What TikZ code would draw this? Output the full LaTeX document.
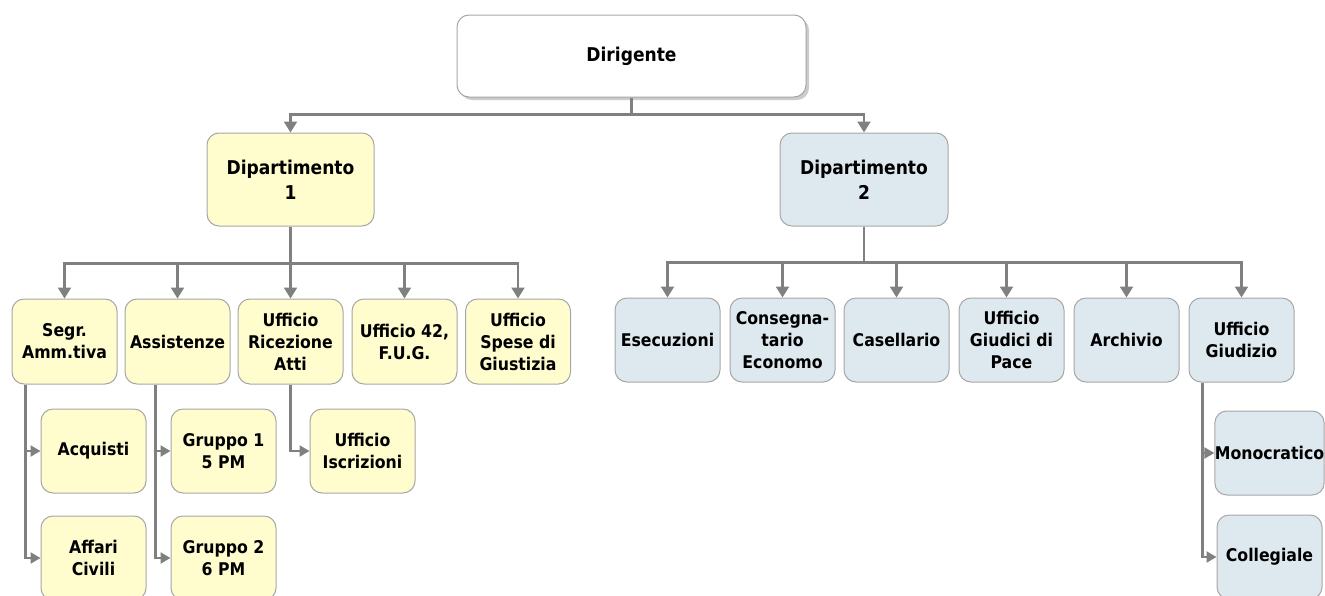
\documentclass[tikz,border=0pt]{standalone}
\usepackage{fontspec}
\setmainfont{DejaVu Sans Condensed}
\usepackage{xcolor}
\usetikzlibrary{arrows.meta,positioning,shadows}

\definecolor{boxline}{HTML}{A6A6A6}
\definecolor{linkgray}{HTML}{808080}
\definecolor{dipyellow}{HTML}{FFFDCE}
\definecolor{dipblue}{HTML}{DEE8EF}

\begin{document}
\begin{tikzpicture}[x=1pt,y=-1pt,
                    box/.style={draw=boxline, line width=1pt, rounded corners=12pt, align=center,
                                inner sep=0pt, font=\fontsize{17.5}{22}\selectfont\bfseries},
                    topbox/.style={box, font=\fontsize{19}{25}\selectfont\bfseries},
                    yellowbox/.style={box, fill=dipyellow, minimum width=105pt, minimum height=85pt},
                    bluebox/.style={box, fill=dipblue, minimum width=105pt, minimum height=84pt},
                    link/.style={draw=linkgray, line width=2.2pt, -{Triangle[width=13pt,length=11pt]}},
                    sublink/.style={link, -{Triangle[width=11pt,length=10pt]}},
                    bus/.style={draw=linkgray, line width=2.2pt},
                   ]

\useasboundingbox (0,0) rectangle (1325,595);

% top level
\node[topbox, fill=white, minimum width=349pt, minimum height=82pt,
      drop shadow={shadow xshift=3pt, shadow yshift=-3pt, fill=black!40}] (dir) at (631.5,56) {Dirigente};
\node[topbox, fill=dipyellow, minimum width=167pt, minimum height=93pt] (dip1) at (290.5,179.5) {Dipartimento\\1};
\node[topbox, fill=dipblue, minimum width=168pt, minimum height=93pt] (dip2) at (864,179.5) {Dipartimento\\2};

\draw[bus] (dir.south) -- ++(0,17) coordinate (b0);
\draw[link] (b0) -| (dip1.north);
\draw[link] (b0) -| (dip2.north);

% Dipartimento 1
\node[yellowbox] (segr)   at (64.5,341.5)  {Segr.\\Amm.tiva};
\node[yellowbox] (assist) at (177.5,341.5) {Assistenze};
\node[yellowbox] (ricez)  at (290.5,341.5) {Ufficio\\Ricezione\\Atti};
\node[yellowbox] (uff42)  at (404.5,341.5) {Ufficio 42,\\F.U.G.};
\node[yellowbox] (spese)  at (518,341.5)   {Ufficio\\Spese di\\Giustizia};

\draw[bus] (dip1.south) -- ++(0,37) coordinate (b1);
\foreach \n in {segr,assist,ricez,uff42,spese}
  \draw[link] (b1) -| (\n.north);

\node[yellowbox, minimum height=84pt] (acq)    at (93.5,451)  {Acquisti};
\node[yellowbox, minimum height=84pt] (affari) at (93.5,558)  {Affari\\Civili};
\node[yellowbox, minimum height=84pt] (gr1)    at (223.5,451) {Gruppo 1\\5 PM};
\node[yellowbox, minimum height=84pt] (gr2)    at (223.5,558) {Gruppo 2\\6 PM};
\node[yellowbox, minimum height=84pt] (iscr)   at (362.5,451) {Ufficio\\Iscrizioni};

\draw[sublink] ([xshift=14pt]segr.south west) |- (acq.west);
\draw[sublink] ([xshift=14pt]segr.south west) |- (affari.west);
\draw[sublink] ([xshift=31pt]assist.south west) |- (gr1.west);
\draw[sublink] ([xshift=31pt]assist.south west) |- (gr2.west);
\draw[sublink] (ricez.south) |- (iscr.west);

% Dipartimento 2
\node[bluebox] (esec)     at (667.5,340)  {Esecuzioni};
\node[bluebox] (conseg)   at (782.5,340)  {Consegna-\\tario\\Economo};
\node[bluebox] (casel)    at (896.5,340)  {Casellario};
\node[bluebox] (giudici)  at (1011.5,340) {Ufficio\\Giudici di\\Pace};
\node[bluebox] (archivio) at (1126.5,340) {Archivio};
\node[bluebox] (giudizio) at (1241.5,340) {Ufficio\\Giudizio};

\draw[bus] (dip2.south) -- ++(0,36) coordinate (b2);
\foreach \n in {esec,conseg,casel,archivio,giudizio}
  \draw[link] (b2) -| (\n.north);
\draw[link] (b2) -| ([xshift=-5pt]giudici.north);

\node[bluebox] (mono) at (1269.5,453) {Monocratico};
\node[bluebox] (coll) at (1269.5,557) {Collegiale};

\draw[sublink] ([xshift=14pt]giudizio.south west) |- (mono.west);
\draw[sublink] ([xshift=14pt]giudizio.south west) |- (coll.west);

\end{tikzpicture}
\end{document}
